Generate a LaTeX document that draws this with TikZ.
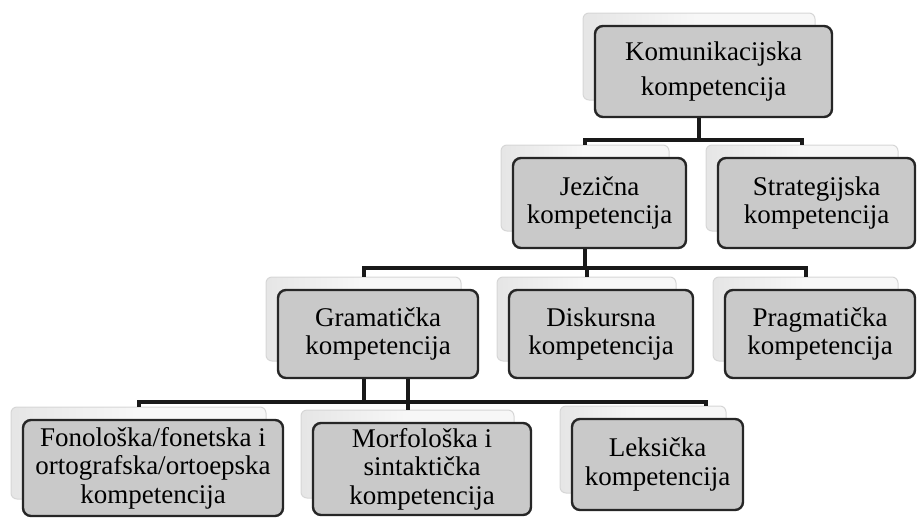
\documentclass[tikz,border=0pt]{standalone}
\usepackage{fontspec}
\setmainfont{Liberation Serif}
\usetikzlibrary{calc}

\begin{document}
\begin{tikzpicture}[x=1pt,y=-1pt,
  zadnja/.style={draw=black!16, line width=1pt, left color=black!10, right color=black!3, middle color=black!3,
    rounded corners=6pt, inner sep=0pt},
  prednja/.style={draw=black!85, line width=2.4pt, fill=black!21, rounded corners=8pt, inner sep=0pt,
    align=center, font=\fontsize{27}{28.5}\selectfont},
  veza/.style={line width=4pt, color=black!90}]
\useasboundingbox (0,0) rectangle (917,522);

   % back boxes (the 3d look)
   \foreach \n/\cx/\cy/\w/\h in {kom/713.5/71.5/237/91, jez/599.5/203/173/90, str/816.5/203/197/90,
       gram/378/334/200/88, dis/601/334/184/88, prag/820/334/190/88,
       fon/153/468/260/96, mor/422/469/218/92, lek/657.5/464.5/171/91}
       {
       \node[zadnja, minimum width=\w-5, minimum height=\h-4] (\n-b) at (\cx-14.5,\cy-15) {};
       }

   % connectors
   \coordinate (bus1) at (0,140);
   \coordinate (bus2) at (0,268);
   \coordinate (bus3) at (0,402);
   \coordinate (lek-k) at ($(lek-b.north east)+(-21,0)$);

   \draw[veza] (kom-b.south) -- (kom-b.south |- bus1);
   \draw[veza] (jez-b.north) |- (str-b.north |- bus1) -- (str-b.north);

   \draw[veza] (jez-b.south) -- (jez-b.south |- bus2);
   \draw[veza] (gram-b.north) |- (prag-b.north |- bus2) -- (prag-b.north);
   \draw[veza] (dis-b.north |- bus2) -- (dis-b.north);

   \draw[veza] (gram-b.south) -- (gram-b.south |- bus3);
   \draw[veza] (fon-b.north) |- (lek-k |- bus3) -- (lek-k);
   \draw[veza] (mor-b.north |- gram-b.south) -- (mor-b.north);

   % front boxes
   \foreach \n/\cx/\cy/\w/\h/\t in {kom/713.5/71.5/237/91/{Komunikacijska\\[6pt]kompetencija},
       jez/599.5/203/173/90/{Jezična\\kompetencija}, str/816.5/203/197/90/{Strategijska\\kompetencija},
       gram/378/334/200/88/{Gramatička\\kompetencija}, dis/601/334/184/88/{Diskursna\\kompetencija},
       prag/820/334/190/88/{Pragmatička\\kompetencija},
       fon/153/468/260/96/{Fonološka/fonetska i\\ortografska/ortoepska\\kompetencija},
       mor/422/469/218/92/{Morfološka i\\sintaktička\\kompetencija},
       lek/657.5/464.5/171/91/{Leksička\\kompetencija}}
       {
       \node[prednja, minimum width=\w, minimum height=\h] (\n) at (\cx,\cy) {\t};
       }

\end{tikzpicture}
\end{document}
